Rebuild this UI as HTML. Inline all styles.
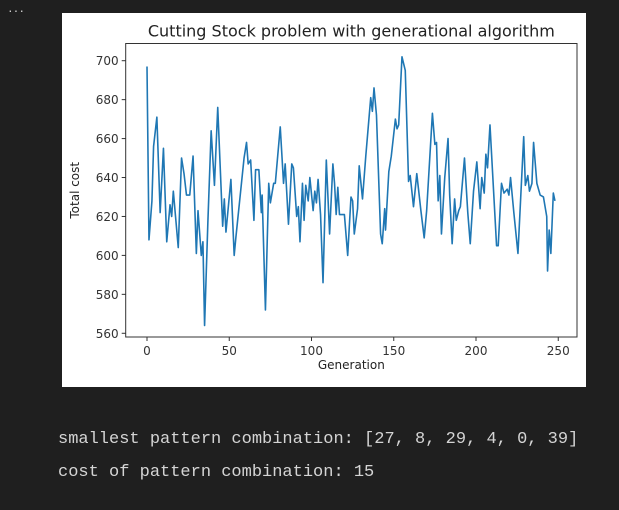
<!DOCTYPE html>
<html><head><meta charset="utf-8"><style>
body{margin:0;width:619px;height:510px;background:#1f1f1f;overflow:hidden;position:relative;font-family:"Liberation Sans",sans-serif}
#dots{position:absolute;left:8px;top:2px;color:#ccc;font-size:14px;letter-spacing:1px}
#fig{position:absolute;left:62px;top:13px;width:524px;height:374px;background:#fff}
.out{position:absolute;left:58px;color:#d4d4d4;font-family:"Liberation Mono",monospace;font-size:17px}
svg text{font-family:"DejaVu Sans",sans-serif}
</style></head><body>
<div id="dots">···</div>
<div id="fig">
<svg id="svg" width="524" height="374"></svg>
</div>
<div class="out" style="top:430px">smallest pattern combination: [27, 8, 29, 4, 0, 39]</div>
<div class="out" style="top:463px">cost of pattern combination: 15</div>
<script>
const gens=[0,1.2,3,4,6,8,10,12,14,15,16,19,21,22.5,24,26,28,30,31,33,34,35,37,39,41,43,46,47,48,51,53,54,59,60.5,61.5,63,65,66,68,69.5,70,72,74,75,77,78,81,83,84,86,88,89,91,92,93,94.5,95.5,96.5,98,99,101,102,103,104,105.5,107,109,111,113,114,115,116,117,120,122,124,125,126,128,129,131,133,136,137,138,139.5,142,143,144.5,145,147,148.5,151,152,153,155,157,159,160,162,164,166.5,168.5,170,173.5,175,176,177,178,179,181,183,184,185.5,187,188,189.5,190.5,193,195,196.5,198.5,200.5,202.5,203.5,205,206,207,208.5,212.5,213.5,215.5,217,219,220,221,223,225.5,229,230,231.5,232.5,234,235,237,239,241,243,243.5,244.5,245.5,247,248];
const costs=[697,608,628,656,671,622,655,607,626,620,633,604,650,642,631,631,651,601,623,600,607,564,617,664,636,676,615,629,612,639,600,609,650,658,647,649,618,644,644,622,631,572,637,627,637,637,666,637,647,616,647,645,620,625,607,637,618,636,628,640,623,633,627,639,621,586,649,611,647,637,621,635,621,621,600,630,628,611,624,646,629,651,681,674,686,672,611,606,624,613,643,651,670,665,667,702,695,638,641,625,642,623,609,623,673,657,658,628,641,611,640,660,631,606,629,618,623,625,650,622,606,633,648,624,640,632,652,645,667,605,605,637,632,634,631,640,622,601,661,636,641,633,637,658,637,631,630,620,592,613,601,632,628];
const xTicks=[0,50,100,150,200,250];
const yTicks=[560,580,600,620,640,660,680,700];
const NS="http://www.w3.org/2000/svg";
const svg=document.getElementById('svg');
const L=63.7,R=515,T=30.5,B=324;
const X=g=>85+g*1.645;
const Y=v=>47.7+(700-v)*1.947;
function mk(t,a,txt){const e=document.createElementNS(NS,t);for(const k in a)e.setAttribute(k,a[k]);if(txt!=null)e.textContent=txt;svg.appendChild(e);return e;}
const ax=mk('rect',{x:L,y:T,width:R-L,height:B-T,fill:'none',stroke:'#333','stroke-width':1});


xTicks.forEach(t=>{const x=X(t);
const l=mk('line',{x1:x,x2:x,y1:B,y2:B+4,stroke:'#333'});


const s=mk('text',{x:x,y:B+18,'text-anchor':'middle','font-size':12,fill:'#333'},t);

});
yTicks.forEach(t=>{const y=Y(t);
const l=mk('line',{x1:L-4,x2:L,y1:y,y2:y,stroke:'#333'});


const s=mk('text',{x:L-7,y:y+4.5,'text-anchor':'end','font-size':12,fill:'#333'},t);

});
const p=mk('polyline',{points:gens.map((g,i)=>X(g)+','+Y(costs[i])).join(' '),fill:'none',stroke:'#1f77b4','stroke-width':1.6,'stroke-linejoin':'round'});


const tt=mk('text',{x:(L+R)/2,y:T-7,'text-anchor':'middle','font-size':16,fill:'#222'},'Cutting Stock problem with generational algorithm');


const xt=mk('text',{x:(L+R)/2,y:B+32,'text-anchor':'middle','font-size':12,fill:'#222'},'Generation');


const yt=mk('text',{x:0,y:0,'text-anchor':'middle','font-size':12,fill:'#222',transform:`translate(17,${(T+B)/2}) rotate(-90)`},'Total cost');


</script>
</body></html>
